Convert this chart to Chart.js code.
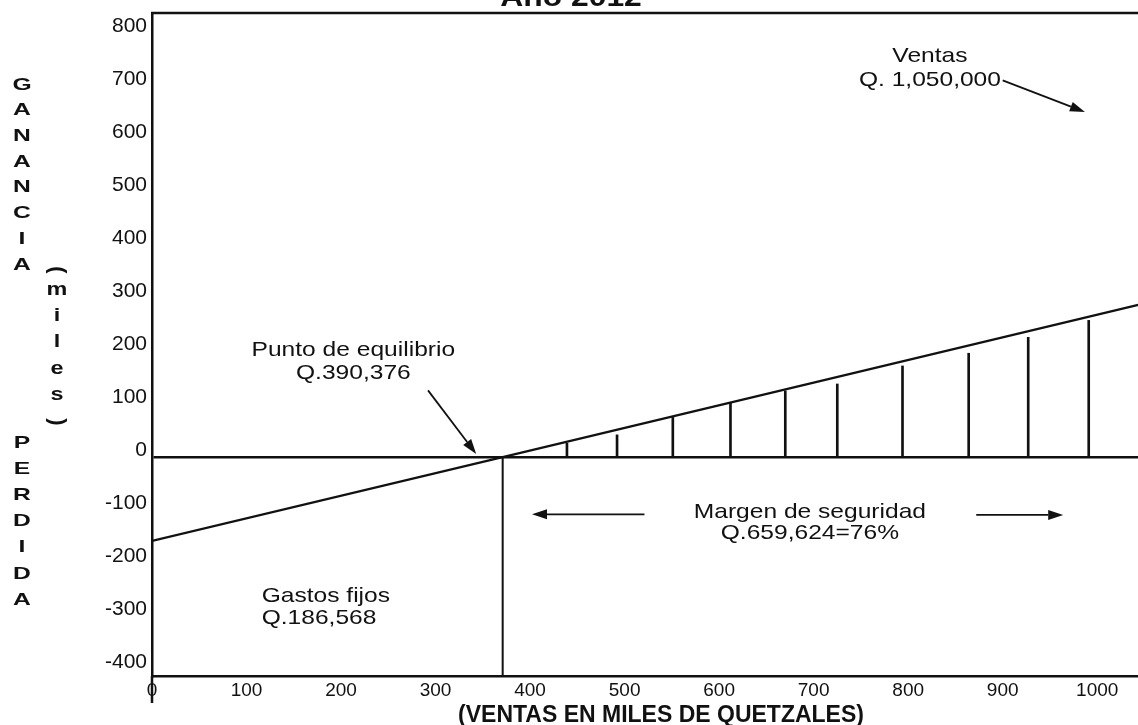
<!DOCTYPE html>
<html lang="es">
<head>
<meta charset="utf-8">
<title>Punto de equilibrio - Año 2012</title>
<script src="https://cdn.jsdelivr.net/npm/chart.js@4.4.1/dist/chart.umd.min.js"></script>
<style>
  html, body { margin: 0; padding: 0; background: #fff; overflow: hidden; width: 1138px; height: 725px; }
  /* the scanned original is cropped at the top and right, so the canvas overflows the page */
  #chart { position: absolute; left: 0; top: -30px; }
</style>
</head>
<body>
<canvas id="chart" width="1170" height="760"></canvas>
<script>
// ventas en miles de quetzales (eje X), ganancia / pérdida en miles (eje Y)
const xTicks = [0, 100, 200, 300, 400, 500, 600, 700, 800, 900, 1000]
const yTicks = [800, 700, 600, 500, 400, 300, 200, 100, 0, -100, -200, -300, -400]

// recta de utilidad: arranca en la pérdida por gastos fijos y cruza cero en el equilibrio
const utilidadX = [0, 371, 1050]
const utilidadY = [-158, 0, 290]

// punto de equilibrio (ventas)
const equilibrioX = 371

// rayado del margen de seguridad
const margenX = [439, 492, 551, 612, 670, 725, 794, 864, 927, 991]
const margenY = [26, 42, 75, 102, 125, 138, 172, 196, 226, 258]

// rango visible de los ejes
const X_MAX = 1077
const Y_MIN = -413
const Y_MAX = 838

const ink = "#111"
const sans = "'Liberation Sans', Arial, sans-serif"

const notas = [
  { text: "Ventas", x: 823, y: 757 },
  { text: "Q. 1,050,000", x: 823, y: 711 },
  { text: "Punto de equilibrio", x: 213, y: 202 },
  { text: "Q.390,376", x: 213, y: 158 },
  { text: "Margen de seguridad", x: 696, y: -104 },
  { text: "Q.659,624=76%", x: 696, y: -143 },
  { text: "Gastos fijos", x: 116, y: -262, align: "left" },
  { text: "Q.186,568", x: 116, y: -304, align: "left" }
]

const flechas = [
  { from: [900, 711], to: [987, 651] },
  { from: [292, 126], to: [343, 6] },
  { from: [521, -108], to: [402, -108] },
  { from: [872, -109], to: [964, -109] }
]

function texto(ctx, str, x, y, font, align = "center", ancho = 1.17, baseline = "middle") {
  ctx.save()
  ctx.translate(x, y)
  ctx.scale(ancho, 1)
  ctx.font = font
  ctx.textAlign = align
  ctx.textBaseline = baseline
  ctx.fillText(str, 0, 0)
  ctx.restore()
}

function flecha(ctx, x1, y1, x2, y2) {
  const a = Math.atan2(y2 - y1, x2 - x1)
  const len = 15, half = 5
  const cos = Math.cos(a), sin = Math.sin(a)
  ctx.beginPath()
  ctx.moveTo(x1, y1)
  ctx.lineTo(x2 - len * cos, y2 - len * sin)
  ctx.stroke()
  ctx.beginPath()
  ctx.moveTo(x2, y2)
  ctx.lineTo(x2 - len * cos + half * sin, y2 - len * sin - half * cos)
  ctx.lineTo(x2 - len * cos - half * sin, y2 - len * sin + half * cos)
  ctx.closePath()
  ctx.fill()
}

const anotaciones = {
  id: "anotaciones",
  afterDraw(chart) {
    const { ctx, chartArea: area, scales: { x, y } } = chart
    ctx.save()
    ctx.fillStyle = ink
    ctx.strokeStyle = ink

    // marco superior y prolongación del eje vertical
    ctx.lineWidth = 2.5
    ctx.beginPath()
    ctx.moveTo(area.left - 1, area.top)
    ctx.lineTo(area.right, area.top)
    ctx.moveTo(area.left, area.bottom)
    ctx.lineTo(area.left, area.bottom + 27)
    ctx.stroke()

    // título (cortado en el original)
    texto(ctx, "Año 2012", 571, area.top - 7, `bold 27px ${sans}`, "center", 1.18, "alphabetic")

    // títulos del eje vertical, letra por letra
    const bold = `bold 17px ${sans}`
    "GANANCIA".split("").forEach((c, i) => texto(ctx, c, 22, area.top + 72 + i * 25.7, bold, "center", 1.45))
    "PERDIDA".split("").forEach((c, i) => texto(ctx, c, 22, area.top + 430 + i * 26.2, bold, "center", 1.45))
    "miles".split("").forEach((c, i) => texto(ctx, c, 57, area.top + 277 + i * 26.2, `bold 18px ${sans}`, "center", 1.3))
    ;[["(", area.top + 257], [")", area.top + 409]].forEach(([c, py]) => {
      ctx.save()
      ctx.translate(57, py)
      ctx.rotate(Math.PI / 2)
      ctx.font = `bold 22px ${sans}`
      ctx.textAlign = "center"
      ctx.textBaseline = "middle"
      ctx.fillText(c, 0, 0)
      ctx.restore()
    })

    // notas
    const font = `21px ${sans}`
    notas.forEach(n => texto(ctx, n.text, x.getPixelForValue(n.x), y.getPixelForValue(n.y), font, n.align || "center"))

    ctx.lineWidth = 1.8
    flechas.forEach(f => flecha(ctx,
      x.getPixelForValue(f.from[0]), y.getPixelForValue(f.from[1]),
      x.getPixelForValue(f.to[0]), y.getPixelForValue(f.to[1])))

    ctx.restore()
  }
}

Chart.defaults.font.family = sans
Chart.defaults.color = ink

new Chart(document.getElementById("chart"), {
  type: "line",
  data: {
    datasets: [
      {
        label: "Utilidad",
        data: utilidadX.map((v, i) => ({ x: v, y: utilidadY[i] })),
        borderColor: ink,
        borderWidth: 2.2,
        pointRadius: 0,
        tension: 0,
        fill: false
      },
      {
        label: "Punto de equilibrio",
        data: [{ x: equilibrioX, y: 0 }, { x: equilibrioX, y: Y_MIN }],
        borderColor: ink,
        borderWidth: 2,
        pointRadius: 0,
        fill: false
      },
      {
        type: "bar",
        label: "Margen de seguridad",
        data: margenX.map((v, i) => ({ x: v, y: [0, margenY[i]] })),
        backgroundColor: ink,
        barThickness: 2
      }
    ]
  },
  options: {
    responsive: false,
    animation: false,
    layout: { padding: { top: 43, right: 0, bottom: 0, left: 0 } },
    plugins: {
      legend: { display: false },
      tooltip: { enabled: false }
    },
    scales: {
      x: {
        type: "linear",
        min: 0,
        max: X_MAX,
        offset: false,
        afterBuildTicks: s => { s.ticks = xTicks.map(value => ({ value })) },
        afterFit: s => { s.height = 54 },
        ticks: {
          autoSkip: false,
          maxRotation: 0,
          padding: 3,
          font: { size: 19 },
          callback: v => String(v)
        },
        grid: { display: false, drawTicks: false },
        border: { display: true, color: ink, width: 2.5 },
        title: {
          display: true,
          text: "(VENTAS EN MILES DE QUETZALES)",
          font: { size: 23, weight: "bold" },
          padding: { top: 0, bottom: 1 }
        }
      },
      y: {
        type: "linear",
        min: Y_MIN,
        max: Y_MAX,
        afterBuildTicks: s => { s.ticks = yTicks.map(value => ({ value })) },
        afterFit: s => { s.width = 152 },
        ticks: {
          padding: 5,
          labelOffset: -7,
          font: { size: 21 },
          callback: v => String(v)
        },
        grid: {
          drawTicks: false,
          color: c => (c.tick && c.tick.value === 0 ? ink : "rgba(0,0,0,0)"),
          lineWidth: 2.5
        },
        border: { display: true, color: ink, width: 2.5 }
      }
    }
  },
  plugins: [anotaciones]
})
</script>
</body>
</html>
